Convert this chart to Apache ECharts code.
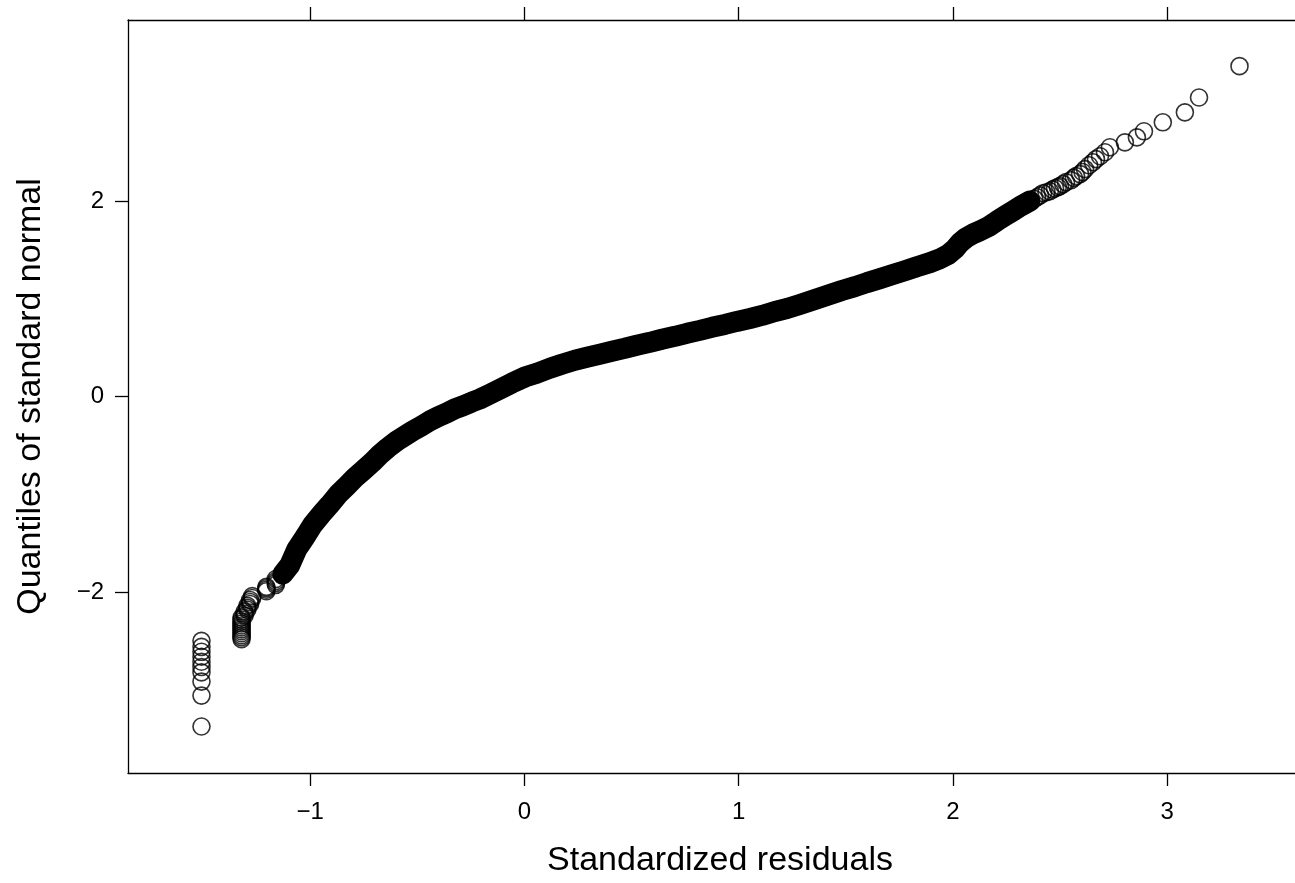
<!DOCTYPE html>
<html>
<head>
<meta charset="utf-8">
<script src="https://cdn.jsdelivr.net/npm/echarts@6/dist/echarts.min.js"></script>
<style>
html,body{margin:0;padding:0;background:#fff;}
#chart{width:1295px;height:883px;}
</style>
</head>
<body>
<div id="chart"></div>
<script>
// Tick labels
const xTicks = [-1, 0, 1, 2, 3];
const yTicks = [-2, 0, 2];

// Lower tail (individual circles), [standardized residual, normal quantile]
const lowTail = [
  [-1.507,-3.374],[-1.507,-3.058],[-1.507,-2.915],[-1.507,-2.820],[-1.507,-2.765],
  [-1.507,-2.712],[-1.507,-2.660],[-1.507,-2.610],[-1.507,-2.559],[-1.507,-2.498],
  [-1.320,-2.480],[-1.320,-2.460],[-1.320,-2.440],[-1.320,-2.420],[-1.320,-2.400],
  [-1.320,-2.380],[-1.320,-2.360],[-1.320,-2.340],[-1.320,-2.320],[-1.320,-2.300],
  [-1.320,-2.280],[-1.320,-2.260],
  [-1.306,-2.240],[-1.306,-2.220],[-1.306,-2.200],[-1.293,-2.180],[-1.293,-2.160],
  [-1.293,-2.140],[-1.280,-2.120],[-1.280,-2.100],[-1.280,-2.080],[-1.270,-2.060],
  [-1.270,-2.040],
  [-1.204,-1.990],[-1.204,-1.975],[-1.204,-1.960],[-1.204,-1.945],
  [-1.160,-1.925],[-1.160,-1.905],[-1.160,-1.885],[-1.160,-1.865]
];

// Dense central body (overlapping circles)
const bandPoints = [
  [-1.128,-1.816],[-1.095,-1.724],[-1.062,-1.561],[-1.025,-1.439],[-0.987,-1.307],
  [-0.945,-1.195],[-0.908,-1.103],[-0.870,-1.001],[-0.828,-0.910],[-0.791,-0.828],
  [-0.754,-0.757],[-0.712,-0.675],[-0.675,-0.594],[-0.637,-0.522],[-0.595,-0.451],
  [-0.558,-0.400],[-0.521,-0.349],[-0.479,-0.298],[-0.441,-0.247],[-0.404,-0.206],
  [-0.362,-0.166],[-0.325,-0.125],[-0.287,-0.094],[-0.245,-0.054],[-0.208,-0.023],
  [-0.161,0.027],[-0.114,0.078],[-0.058,0.140],[0.002,0.201],[0.058,0.241],
  [0.119,0.292],[0.175,0.333],[0.236,0.374],[0.292,0.404],[0.352,0.435],
  [0.409,0.466],[0.469,0.496],[0.525,0.527],[0.586,0.557],[0.642,0.588],
  [0.703,0.618],[0.759,0.649],[0.819,0.679],[0.875,0.710],[0.936,0.740],
  [0.992,0.771],[1.053,0.801],[1.109,0.832],[1.170,0.873],[1.226,0.903],
  [1.286,0.944],[1.356,0.995],[1.426,1.046],[1.482,1.087],[1.543,1.127],
  [1.599,1.168],[1.660,1.209],[1.716,1.249],[1.776,1.290],[1.832,1.331],
  [1.893,1.372],[1.940,1.412],[1.977,1.453],[2.010,1.514],[2.033,1.575],
  [2.061,1.626],[2.094,1.666],[2.126,1.697],[2.164,1.738],[2.206,1.799],
  [2.243,1.850],[2.281,1.901],[2.318,1.952],[2.360,2.003]
];

// Upper tail (individual circles)
const highTail = [
  [2.380,2.025],[2.393,2.042],[2.407,2.060],[2.421,2.083],[2.437,2.093],[2.453,2.103],
  [2.465,2.120],[2.477,2.134],[2.490,2.145],[2.500,2.155],[2.515,2.176],
  [2.528,2.196],[2.552,2.216],[2.565,2.240],[2.575,2.257],[2.594,2.278],[2.605,2.300],[2.617,2.329],
  [2.636,2.369],[2.654,2.400],[2.668,2.431],[2.687,2.461],[2.710,2.502],
  [2.733,2.553],[2.803,2.603],[2.859,2.654],[2.892,2.716],[2.980,2.808],
  [3.083,2.910],[3.149,3.062],[3.338,3.383]
];

const allPoints = lowTail.concat(bandPoints, highTail);

const FONT = '"Liberation Sans", Arial, Helvetica, sans-serif';
const fmt = v => (v < 0 ? '\u2212' + Math.abs(v) : String(v));

const chart = echarts.init(document.getElementById('chart'), null, {renderer: 'canvas'});
const axisLine = {show: true, onZero: false, lineStyle: {color: '#000', width: 1.3}};
const tickStyle = {color: '#000', width: 1.3};

chart.setOption({
  animation: false,
  backgroundColor: '#fff',
  grid: {left: 128, top: 20, right: 0, height: 757, containLabel: false},
  xAxis: [
    {
      type: 'value', position: 'bottom', min: -1.85, max: 3.597,
      axisLine: axisLine,
      axisTick: {show: true, inside: false, length: 13, lineStyle: tickStyle, customValues: xTicks},
      axisLabel: {show: true, customValues: xTicks, formatter: fmt, color: '#000', fontSize: 24, fontFamily: FONT, margin: 27},
      splitLine: {show: false},
      name: 'Standardized residuals', nameLocation: 'middle', nameGap: 71,
      nameTextStyle: {color: '#000', fontSize: 34, fontFamily: FONT, padding: [0, 0, 0, 17]}
    },
    {
      type: 'value', position: 'top', min: -1.85, max: 3.597,
      axisLine: axisLine,
      axisTick: {show: true, inside: false, length: 13, lineStyle: tickStyle, customValues: xTicks},
      axisLabel: {show: false},
      splitLine: {show: false}
    }
  ],
  yAxis: [
    {
      type: 'value', position: 'left', min: -3.85, max: 3.855,
      axisLine: axisLine,
      axisTick: {show: true, inside: false, length: 13, lineStyle: tickStyle, customValues: yTicks},
      axisLabel: {show: true, customValues: yTicks, formatter: fmt, color: '#000', fontSize: 24, fontFamily: FONT, margin: 24},
      splitLine: {show: false},
      name: 'Quantiles of standard normal', nameLocation: 'middle', nameGap: 80, nameRotate: 90,
      nameTextStyle: {color: '#000', fontSize: 34, fontFamily: FONT}
    }
  ],
  series: [
    {
      name: 'body', type: 'line', xAxisIndex: 0, yAxisIndex: 0,
      data: bandPoints, symbol: 'none', silent: true,
      lineStyle: {color: '#000', width: 21, cap: 'round', join: 'round'},
      z: 2
    },
    {
      name: 'points', type: 'scatter', xAxisIndex: 0, yAxisIndex: 0,
      data: allPoints, symbol: 'circle', symbolSize: 17,
      itemStyle: {color: 'rgba(0,0,0,0)', borderColor: '#000', borderWidth: 1.6},
      z: 3
    }
  ]
});
</script>
</body>
</html>
